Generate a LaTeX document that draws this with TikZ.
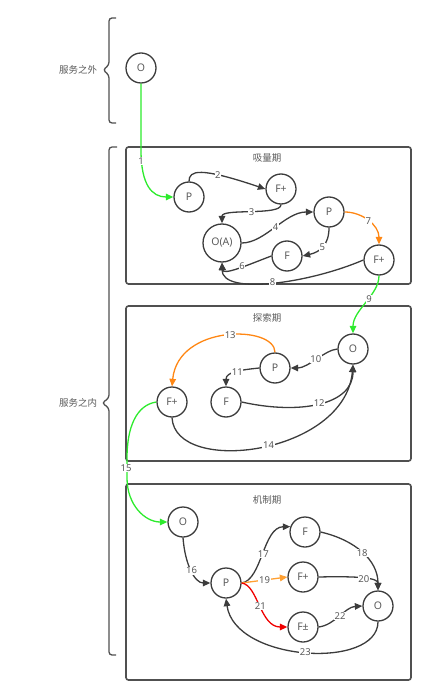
\documentclass[tikz,border=0pt]{standalone}
\usepackage{fontspec}
\setmainfont{Noto Sans}
\newfontfamily\cjk{Noto Sans CJK SC}
\usetikzlibrary{arrows.meta}
\definecolor{lgreen}{RGB}{45,235,45}
\definecolor{lorange}{RGB}{255,135,20}
\definecolor{lorange2}{RGB}{255,160,50}
\definecolor{lred}{RGB}{240,0,0}
\definecolor{ink}{RGB}{60,60,60}
\definecolor{txt}{RGB}{90,90,90}
\begin{document}
\begin{tikzpicture}[x=1pt,y=-1pt,
  st/.style={circle,draw=ink,line width=1.3pt,minimum size=30pt,inner sep=0pt,text=txt,font=\fontsize{10.5}{11}\selectfont},
  big/.style={st,minimum size=38pt},
  cn/.style={color=ink,line width=1.3pt,-{Triangle[length=7.5pt,width=6.5pt]}},
  gr/.style={cn,color=lgreen},
  org/.style={cn,color=lorange},
  org2/.style={cn,color=lorange2},
  rd/.style={cn,color=lred},
  lbl/.style={fill=white,inner sep=0.6pt,text=txt,font=\fontsize{9.5}{10}\selectfont},
  frame/.style={draw=ink!90,line width=1.6pt,rounded corners=2.5pt},
  ttl/.style={text=txt,font=\cjk\fontsize{9.5}{10}\selectfont},
  brc/.style={draw=ink!90,line width=1.3pt,rounded corners=3pt}]
\useasboundingbox (0,0) rectangle (429,700);

% braces and side labels
\draw[brc] (116,18) -- (109,18) -- (109,65) -- (103,70) -- (109,75) -- (109,123) -- (116,123);
\draw[brc] (117,147) -- (109,147) -- (109,398) -- (102,403) -- (109,408) -- (109,655) -- (116,655);
\node[ttl] (outside) at (78,70) {服务之外};
\node[ttl] (inside) at (78,403) {服务之内};

% frames
\draw[frame] (126,147) rectangle (411,284);
\draw[frame] (126,306) rectangle (411,461);
\draw[frame] (126,484) rectangle (411,680);
\node[ttl] (t1) at (267,158) {吸量期};
\node[ttl] (t2) at (267,318) {探索期};
\node[ttl] (t3) at (267,500) {机制期};

% nodes
\node[st] (o0) at (141,68) {O};
\node[st] (p1) at (189,197) {P};
\node[st] (fp1) at (281,189) {F+};
\node[big] (oa) at (222,243) {O(A)};
\node[st] (p2) at (329,212) {P};
\node[st] (f1) at (287,256) {F};
\node[st] (fp2) at (379,260) {F+};

\node[st] (o2) at (353,349) {O};
\node[st] (p3) at (275,368) {P};
\node[st] (f2) at (226,402) {F};
\node[st] (fp3) at (172,402) {F+};

\node[st] (o3) at (183,522) {O};
\node[st] (p4) at (226,583) {P};
\node[st] (f3) at (305,532) {F};
\node[st] (fp4) at (303,577) {F+};
\node[st] (fpm) at (303,627) {F±};
\node[st] (o4) at (378,606) {O};

% box 1 edges
\draw[gr] (o0.south) -- (141,150) .. controls (141,185) and (152,197) .. (p1.west)
  node[lbl,pos=0.0,yshift=-11pt] {1};
\draw[cn] (p1.north) .. controls (189,170) and (200,167) .. (fp1.west) node[lbl,pos=0.68] {2};
\draw[cn] (fp1.south) .. controls (281,216) and (222,208) .. (oa.north) node[lbl,pos=0.5] {3};
\draw[cn] (oa.east) .. controls (265,243) and (285,212) .. (p2.west) node[lbl,pos=0.5] {4};
\draw[cn] (p2.south) .. controls (329,245) and (320,252) .. (f1.east) node[lbl,pos=0.5] {5};
\draw[cn] (f1.west) .. controls (250,264) and (223,276) .. (oa.south) node[lbl,pos=0.45] {6};
\draw[cn] (fp2.west) .. controls (310,283) and (222,296) .. (oa.south) node[lbl,pos=0.5] {8};
\draw[org] (p2.east) .. controls (362,212) and (379,225) .. (fp2.north) node[lbl,pos=0.5] {7};

% box 2 edges
\draw[gr] (fp2.south) .. controls (379,295) and (353,310) .. (o2.north) node[lbl,pos=0.42] {9};
\draw[cn] (o2.west) .. controls (325,350) and (308,368) .. (p3.east) node[lbl,pos=0.5] {10};
\draw[cn] (p3.west) .. controls (240,370) and (226,372) .. (f2.north) node[lbl,pos=0.45] {11};
\draw[cn] (f2.east) .. controls (300,415) and (353,405) .. (o2.south) node[lbl,pos=0.5] {12};
\draw[org] (p3.north) .. controls (275,325) and (178,324) .. (fp3.north) node[lbl,pos=0.47] {13};
\draw[cn] (fp3.south) .. controls (175,476) and (345,455) .. (o2.south) node[lbl,pos=0.53] {14};
\draw[gr] (fp3.west) .. controls (136,405) and (127,428) .. (127,458) -- (127,478)
  node[lbl,pos=0.5,xshift=-1pt] {15} .. controls (127,505) and (145,522) .. (o3.west);

% box 3 edges
\draw[cn] (o3.south) .. controls (185,565) and (195,583) .. (p4.west) node[lbl,pos=0.5] {16};
\draw[cn] (p4.east) .. controls (262,580) and (263,527) .. (f3.160) node[lbl,pos=0.5] {17};
\draw[org2] (p4.east) -- (fp4.west) node[lbl,pos=0.5] {19};
\draw[rd] (p4.east) .. controls (258,585) and (260,627) .. (fpm.west) node[lbl,pos=0.5] {21};
\draw[cn] (f3.east) .. controls (355,540) and (378,560) .. (o4.north) node[lbl,pos=0.5] {18};
\draw[cn] (fp4.east) .. controls (360,576) and (378,578) .. (o4.north) node[lbl,pos=0.5] {20};
\draw[cn] (fpm.east) .. controls (335,625) and (345,607) .. (o4.west) node[lbl,pos=0.5] {22};
\draw[cn] (o4.south) .. controls (378,670) and (235,662) .. (p4.south) node[lbl,pos=0.5] {23};
\end{tikzpicture}
\end{document}
